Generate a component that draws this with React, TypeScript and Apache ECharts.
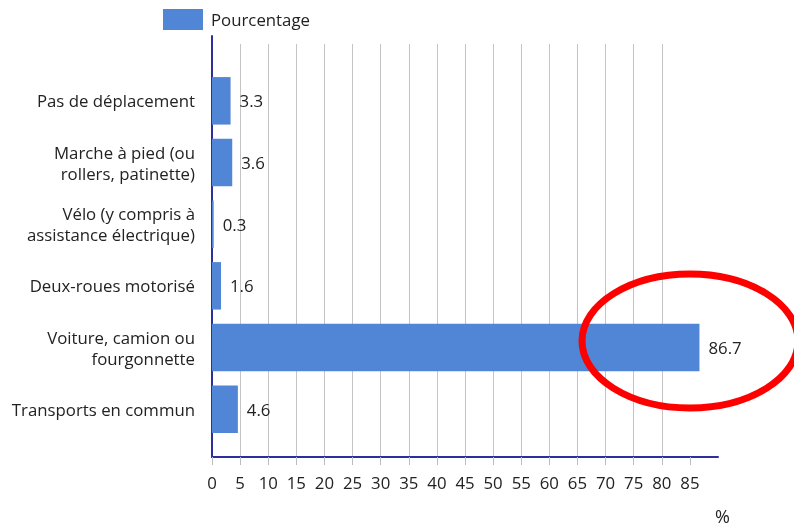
import React, { useEffect, useRef } from "react";
import * as echarts from "echarts";

const categories = [
  "Pas de déplacement",
  "Marche à pied (ou\nrollers, patinette)",
  "Vélo (y compris à\nassistance électrique)",
  "Deux-roues motorisé",
  "Voiture, camion ou\nfourgonnette",
  "Transports en commun",
];
const values = [3.3, 3.6, 0.3, 1.6, 86.7, 4.6];
const xTicks = [0, 5, 10, 15, 20, 25, 30, 35, 40, 45, 50, 55, 60, 65, 70, 75, 80, 85];
const seriesName = "Pourcentage";
const unitLabel = "%";

const FONT = "'Open Sans', 'Noto Sans', sans-serif";
const TEXT = "#222222";
const NAVY = "#2e2e9c";
const BAR = "#5185d5";
const FS = 16.8;

export default function App() {
  const ref = useRef<HTMLDivElement>(null);
  useEffect(() => {
    if (!ref.current) return;
    const chart = echarts.init(ref.current, undefined, { renderer: "svg" });
    const L = 212;
    const R = 76;
    chart.setOption({
      animation: false,
      textStyle: { fontFamily: FONT },
      legend: {
        data: [seriesName],
        left: 163,
        top: 9,
        padding: 0,
        itemWidth: 40,
        itemHeight: 21,
        itemGap: 8,
        icon: "rect",
        textStyle: { fontSize: FS, color: TEXT, fontFamily: FONT, padding: [0, 0, 0, 3] },
      },
      grid: [
        { left: L, right: R, top: 44, bottom: 72 },
        { left: L, right: R, top: 70, height: 370 },
        { left: L, right: R, top: 36, bottom: 72 },
      ],
      xAxis: [
        {
          gridIndex: 0,
          type: "value",
          min: 0,
          max: 90,
          interval: 5,
          axisLine: { show: true, lineStyle: { color: NAVY, width: 2 } },
          axisTick: {
            show: true,
            length: 8,
            customValues: xTicks,
            lineStyle: { color: "#bdbdbd", width: 1 },
          },
          axisLabel: {
            customValues: xTicks,
            color: TEXT,
            fontSize: FS,
            margin: 17,
            fontFamily: FONT,
          },
          splitLine: {
            show: true,
            showMaxLine: false,
            showMinLine: false,
            lineStyle: { color: "#c4c4c4", width: 1 },
          },
        },
        { gridIndex: 1, type: "value", min: 0, max: 90, show: false },
        { gridIndex: 2, type: "value", min: 0, max: 90, show: false },
      ],
      yAxis: [
        { gridIndex: 0, type: "category", data: categories, show: false },
        {
          gridIndex: 1,
          type: "category",
          data: categories,
          inverse: true,
          axisLine: { show: false },
          axisTick: { show: false },
          axisLabel: {
            color: TEXT,
            fontSize: FS,
            lineHeight: 21,
            margin: 17,
            fontFamily: FONT,
          },
        },
        {
          gridIndex: 2,
          type: "value",
          min: 0,
          max: 1,
          axisLine: { show: true, onZero: false, lineStyle: { color: NAVY, width: 2 } },
          axisTick: { show: false },
          axisLabel: { show: false },
          splitLine: { show: false },
        },
      ],
      series: [
        {
          name: seriesName,
          type: "bar",
          xAxisIndex: 1,
          yAxisIndex: 1,
          data: values,
          barCategoryGap: "23%",
          itemStyle: { color: BAR },
          label: {
            show: true,
            position: "right",
            distance: 9,
            color: TEXT,
            fontSize: FS,
            fontFamily: FONT,
          },
        },
      ],
      graphic: [
        {
          type: "text",
          left: 715,
          top: 507,
          style: { text: unitLabel, fontSize: 18, fill: TEXT, fontFamily: FONT },
        },
        {
          type: "ellipse",
          shape: { cx: 690, cy: 341, rx: 108, ry: 67 },
          style: { fill: "none", stroke: "#ff0000", lineWidth: 7 },
          z: 100,
        },
      ],
    });
    return () => chart.dispose();
  }, []);
  return (
    <div
      ref={ref}
      style={{ position: "fixed", left: 0, top: 0, width: 794, height: 529 }}
    />
  );
}
